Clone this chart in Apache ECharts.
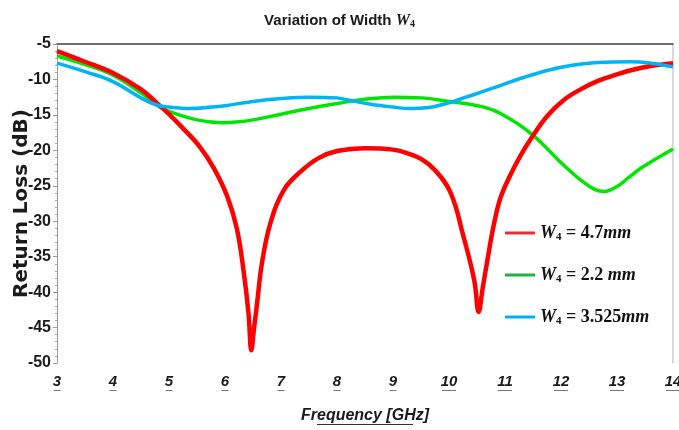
<!DOCTYPE html>
<html>
<head>
<meta charset="utf-8">
<script src="https://cdn.jsdelivr.net/npm/echarts@6/dist/echarts.min.js"></script>
<style>
  html, body { margin: 0; padding: 0; background: #fff; }
  #chart { width: 679px; height: 430px; }
</style>
</head>
<body>
<div id="chart"></div>
<script>
// Return loss vs frequency for three widths W4 of the radiator.
const seriesNames = ['W4 = 4.7mm', 'W4 = 2.2 mm', 'W4 = 3.525mm'];
const legendValues = ['4.7', '2.2 ', '3.525'];

// W4 = 4.7 mm
const freqA = [3, 3.5, 4, 4.5, 4.78, 5, 5.25, 5.55, 5.8, 6.04, 6.21, 6.33, 6.42, 6.47, 6.52, 6.57, 6.66, 6.81, 7.05, 7.35, 7.67, 8, 8.5, 9, 9.25, 9.5, 9.75, 10.03, 10.26, 10.45, 10.53, 10.6, 10.69, 10.8, 10.92, 11.1, 11.28, 11.46, 11.75, 12.05, 12.35, 12.66, 13, 13.25, 13.6, 14];
const lossA = [-6.0, -7.5, -9.1, -11.4, -13.3, -14.9, -16.9, -19.5, -22.5, -26.5, -31.0, -36.9, -43.0, -48.2, -45.0, -41.8, -35.9, -30.3, -25.6, -23.0, -21.1, -20.1, -19.7, -19.9, -20.4, -21.2, -22.8, -26.0, -32.2, -38.3, -42.8, -39.5, -35.3, -30.5, -26.7, -23.4, -20.7, -18.4, -15.2, -12.9, -11.4, -10.2, -9.3, -8.7, -8.1, -7.7];

// W4 = 2.2 mm
const freqB = [3, 3.5, 4, 4.5, 4.78, 5, 5.5, 5.95, 6.2, 6.5, 7, 7.5, 8, 8.5, 9, 9.5, 10, 10.57, 10.92, 11.46, 12.05, 12.4, 12.6, 12.77, 13, 13.2, 13.43, 14];
const lossB = [-6.7, -7.9, -9.4, -11.9, -13.6, -14.5, -15.7, -16.1, -16.0, -15.7, -14.9, -14.1, -13.4, -12.8, -12.5, -12.6, -13.1, -13.8, -14.8, -17.6, -22.1, -24.5, -25.5, -25.8, -25.1, -23.9, -22.5, -19.8];

// W4 = 3.525 mm
const freqC = [3, 3.5, 4, 4.5, 4.78, 5, 5.38, 5.75, 6, 6.5, 7, 7.5, 8, 8.2, 8.6, 9, 9.3, 9.6, 10, 10.3, 10.5, 10.9, 11.3, 11.77, 12.2, 12.66, 13.25, 13.6, 14];
const lossC = [-7.7, -8.9, -10.3, -12.6, -13.6, -13.9, -14.1, -13.9, -13.7, -13.1, -12.7, -12.5, -12.6, -12.9, -13.5, -13.9, -14.1, -14.0, -13.3, -12.5, -12.0, -10.9, -9.8, -8.7, -8.0, -7.6, -7.5, -7.7, -8.2];

const freqTicks = [3, 4, 5, 6, 7, 8, 9, 10, 11, 12, 13, 14];

const zip = (xs, ys) => xs.map((x, i) => [x, ys[i]]);

const narrow = "'Liberation Sans Narrow', 'Arial Narrow', 'Liberation Sans', sans-serif";
const serif = "'Liberation Serif', 'DejaVu Serif', serif";

const chart = echarts.init(document.getElementById('chart'), null, { renderer: 'canvas' });

const lineColors = ['#ff0000', '#00e600', '#00b4f5'];
const legendColors = ['#ee2b36', '#1fb142', '#00b0f0'];

chart.setOption({
  animation: false,
  backgroundColor: '#ffffff',
  title: {
    text: '{t|Variation of Width }{w|W}{s|4}',
    left: 'center',
    top: 7,
    textStyle: {
      rich: {
        t: { fontFamily: narrow, fontSize: 15, color: '#1a1a1a' },
        w: { fontFamily: serif, fontStyle: 'italic', fontSize: 16, color: '#1a1a1a' },
        s: { fontFamily: serif, fontSize: 10, color: '#1a1a1a', padding: [7, 0, 0, 0] }
      }
    }
  },
  grid: { left: 57, right: 6, top: 44, bottom: 67, containLabel: false, outerBoundsMode: 'none' },
  legend: {
    orient: 'vertical',
    left: 500,
    top: 219,
    itemGap: 23,
    icon: 'rect',
    itemWidth: 30,
    itemHeight: 3,
    data: seriesNames.map((n, i) => ({ name: n, itemStyle: { color: legendColors[i] } })),
    formatter: (name) => {
      const v = legendValues[seriesNames.indexOf(name)];
      return '{w|W}{s|4}{n| = ' + v + '}{m|mm}';
    },
    textStyle: {
      rich: {
        w: { fontFamily: serif, fontStyle: 'italic', fontWeight: 'bold', fontSize: 18, color: '#111', height: 22 },
        s: { fontFamily: serif, fontWeight: 'bold', fontSize: 11, color: '#111', padding: [9, 0, 0, 0] },
        n: { fontFamily: serif, fontWeight: 'bold', fontSize: 18, color: '#111' },
        m: { fontFamily: serif, fontStyle: 'italic', fontWeight: 'bold', fontSize: 18, color: '#111' }
      }
    }
  },
  xAxis: [{
    type: 'value',
    min: 3,
    max: 14,
    interval: 1,
    name: '{u|Frequency [GHz]}\n{l|}',
    nameLocation: 'middle',
    nameGap: 44,
    nameTextStyle: {
      rich: {
        u: { fontFamily: narrow, fontStyle: 'italic', fontWeight: 'bold', fontSize: 16, color: '#1a1a1a', height: 17 },
        l: { width: 96, height: 1, backgroundColor: '#333' }
      }
    },
    axisLine: { show: false },
    axisTick: { show: false },
    splitLine: { show: false },
    axisLabel: {
      margin: 10,
      formatter: (v) => freqTicks.includes(v) ? '{d|' + v + '}\n{' + (v >= 10 ? 'u2' : 'u1') + '|}' : '',
      rich: {
        d: { fontFamily: narrow, fontStyle: 'italic', fontWeight: 'bold', fontSize: 15, color: '#1a1a1a', height: 17 },
        u1: { width: 7, height: 1, backgroundColor: '#777' },
        u2: { width: 14, height: 1, backgroundColor: '#777' }
      }
    }
  }, {
    type: 'value',
    position: 'top',
    min: 3,
    max: 14,
    axisLine: { show: true, lineStyle: { color: '#6e6e6e', width: 2 } },
    axisTick: { show: false },
    axisLabel: { show: false },
    splitLine: { show: false }
  }],
  yAxis: [{
    type: 'value',
    min: -50,
    max: -5,
    interval: 5,
    name: 'Return Loss (dB)',
    nameLocation: 'middle',
    nameGap: 25,
    nameMoveOverlap: false,
    nameTextStyle: { fontFamily: "'DejaVu Sans', sans-serif", fontWeight: 'bold', fontSize: 20, color: '#1a1a1a' },
    axisLine: { show: true, lineStyle: { color: '#9a9a9a', width: 1 } },
    axisTick: { show: true, length: 4, lineStyle: { color: '#9a9a9a' } },
    minorTick: { show: true, splitNumber: 5, length: 2, lineStyle: { color: '#aaaaaa' } },
    splitLine: { show: false },
    axisLabel: { margin: 6, fontFamily: narrow, fontWeight: 'bold', fontSize: 16, color: '#1a1a1a' }
  }, {
    type: 'value',
    position: 'right',
    min: -50,
    max: -5,
    axisLine: { show: true, lineStyle: { color: '#cccccc', width: 1.5 } },
    axisTick: { show: false },
    axisLabel: { show: false },
    splitLine: { show: false }
  }],
  series: [
    {
      name: seriesNames[1], type: 'line', smooth: 0.4, symbol: 'none',
      data: zip(freqB, lossB), lineStyle: { color: lineColors[1], width: 3.5 }, itemStyle: { color: lineColors[1] }, z: 2
    },
    {
      name: seriesNames[0], type: 'line', smooth: 0.4, symbol: 'none',
      data: zip(freqA, lossA), lineStyle: { color: lineColors[0], width: 4.5 }, itemStyle: { color: lineColors[0] }, z: 3
    },
    {
      name: seriesNames[2], type: 'line', smooth: 0.4, symbol: 'none',
      data: zip(freqC, lossC), lineStyle: { color: lineColors[2], width: 3.5 }, itemStyle: { color: lineColors[2] }, z: 4
    }
  ]
});
</script>
</body>
</html>
